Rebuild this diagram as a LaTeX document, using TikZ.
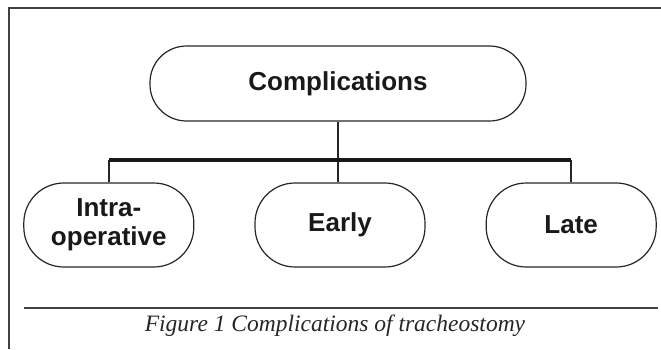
\documentclass[tikz,border=0pt]{standalone}
\usepackage{fontspec}
\setmainfont{Liberation Serif}
\newfontfamily\boxfont{Liberation Sans}
\usetikzlibrary{positioning}
\tikzset{
  % Box styles
  pillbox/.style={rectangle, rounded corners=40pt, draw=black!85, line width=1.2pt, minimum width=170pt, minimum height=84pt, font=\boxfont\bfseries\fontsize{26}{29}\selectfont, align=center, text=black!90, inner sep=0pt},
  topbox/.style={pillbox, rounded corners=36.5pt, minimum width=376pt, minimum height=75pt},
  % Line styles
  link/.style={draw=black!85, line width=1.5pt},
  barline/.style={draw=black!90, line width=3.6pt},
  framerule/.style={draw=black!75, line width=2pt},
  captionrule/.style={draw=black!75, line width=1.5pt}
}
\begin{document}
\begin{tikzpicture}[x=1pt, y=-1pt]
  \useasboundingbox (0,0) rectangle (661,349);
  % Frame
  \draw[framerule] (9,349) -- (9,8) -- (661,8);
  % Top node
  \node[topbox] (comp) at (338,83.5) {Complications};
  % Branches
  \node[pillbox] (early) at (340,225) {Early};
  \node[pillbox, left=60pt of early] (intra) {Intra-\\operative};
  \node[pillbox, right=60pt of early] (late) {Late};
  % Connectors
  \coordinate (split) at (338,160);
  \draw[link] (comp.south) -- (comp.south |- early.north);
  \draw[link] (intra.north) -- (intra.north |- split);
  \draw[link] (late.north) -- (late.north |- split);
  \draw[barline] (intra.north |- split) -- (late.north |- split);
  % Caption
  \draw[captionrule] (24,308) -- (658,308);
  \node[font=\itshape\fontsize{23.5}{25}\selectfont, text=black!85] (caption) at (335,326) {Figure 1 Complications of tracheostomy};
\end{tikzpicture}
\end{document}
